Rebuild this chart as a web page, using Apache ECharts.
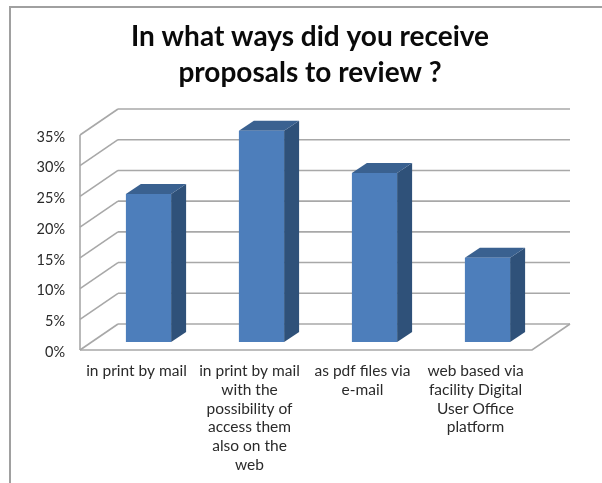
<!DOCTYPE html>
<html><head><meta charset="utf-8">
<style>html,body{margin:0;padding:0;background:#fff}#c{width:602px;height:483px}</style>
<script src="https://cdn.jsdelivr.net/npm/echarts@6/dist/echarts.min.js"></script>
</head><body><div id="c"></div>
<script>
var titleText = 'In what ways did you receive\nproposals to review ?';
var categories = ['in print by mail','in print by mail\nwith the\npossibility of\naccess them\nalso on the\nweb','as pdf files via\ne-mail','web based via\nfacility Digital\nUser Office\nplatform'];
var shares = [24.1, 34.4, 27.5, 13.7];
var yTicks = [0,5,10,15,20,25,30,35];

var FONT = 'Lato';
var WALL_DX = 38, WALL_DY = -26;
var BAR_DX = 12, BAR_DY = -8, BAR_DEPTH_X = 15, BAR_DEPTH_Y = -10, BAR_RATIO = 0.4;
var LINE = '#a8a8a8';

function renderWall(params, api){
  var v = api.value(0);
  var cs = params.coordSys;
  var y = api.coord([0, v])[1];
  var x0 = cs.x, x1 = cs.x + cs.width;
  var children = [];
  var st = {stroke: LINE, lineWidth: 1.6, fill: null};
  children.push({type:'polyline', shape:{points:[[x0+WALL_DX,y+WALL_DY],[x1+WALL_DX,y+WALL_DY]]}, style:st});
  children.push({type:'polyline', shape:{points:[[x0,y],[x0+WALL_DX,y+WALL_DY]]}, style:st});
  if (v === 0) {
    children.push({type:'polyline', shape:{points:[[x0,y],[x1,y],[x1+WALL_DX,y+WALL_DY]]}, style:st});
    var yTop = api.coord([0, yTicks[yTicks.length-1]])[1];
    children.push({type:'polyline', shape:{points:[[x0,y],[x0,yTop]]}, style:st});
  }
  return {type:'group', children:children};
}
function renderBar(params, api){
  var base = api.coord([api.value(0), 0]);
  var top = api.coord([api.value(0), api.value(1)]);
  var w = api.size([1,0])[0] * BAR_RATIO;
  var l = base[0] - w/2 + BAR_DX, r = l + w;
  var t = top[1] + BAR_DY, b = base[1] + BAR_DY;
  var dx = BAR_DEPTH_X, dy = BAR_DEPTH_Y;
  return {type:'group', children:[
    {type:'polygon', shape:{points:[[r,t],[r+dx,t+dy],[r+dx,b+dy],[r,b]]}, style:{fill:'#2f5179'}},
    {type:'polygon', shape:{points:[[l,t],[l+dx,t+dy],[r+dx,t+dy],[r,t]]}, style:{fill:'#3a6190'}},
    {type:'rect', shape:{x:l,y:t,width:w,height:b-t}, style:{fill:'#4d7ebb'}}
  ]};
}
var chart = echarts.init(document.getElementById('c'), null, {renderer:'canvas'});
chart.setOption({
  animation:false,
  backgroundColor:'#fff',
  title:{text:titleText, left:305, top:14, textAlign:'center',
    textStyle:{fontFamily:FONT,fontWeight:'bold',fontSize:28,color:'#0a0a0a',lineHeight:36}},
  grid:{left:80, right:70, top:135, bottom:133},
  xAxis:{type:'category', data:categories,
    axisLine:{show:false}, axisTick:{show:false}, splitLine:{show:false},
    axisLabel:{interval:0, margin:12, fontFamily:FONT, fontSize:15.5, color:'#2a2a2a', lineHeight:18.7, align:'center', verticalAlign:'top'}},
  yAxis:{type:'value', min:0, max:35, interval:5,
    axisLine:{show:false}, axisTick:{show:false}, splitLine:{show:false},
    axisLabel:{formatter:'{v|{value}%}', margin:15,
      rich:{v:{fontFamily:FONT, fontSize:14.5, color:'#2a2a2a', padding:[4,0,0,0]}}}},
  graphic:[{type:'polyline', silent:true, z:-1,
    shape:{points:[[602,7],[10,7],[10,483]]}, style:{stroke:'#a0a0a0',lineWidth:2,fill:null}}],
  series:[
    {type:'custom', coordinateSystem:'cartesian2d', silent:true, z:1, clip:false,
     encode:{y:0}, data:yTicks.map(function(v){return [v];}), renderItem:renderWall},
    {type:'custom', coordinateSystem:'cartesian2d', silent:true, z:2, clip:false,
     encode:{x:0,y:1}, data:shares.map(function(v,i){return [i,v];}), renderItem:renderBar}
  ]
});
</script></body></html>
